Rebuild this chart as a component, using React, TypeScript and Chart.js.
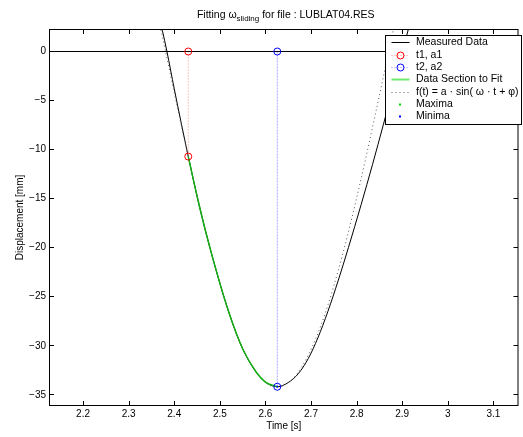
import React, { useEffect, useRef } from 'react';
import { Chart, registerables } from 'chart.js';

Chart.register(...registerables);

const FONT = "'Liberation Sans', Arial, Helvetica, sans-serif";

// axis ranges
const xMin = 2.1264;
const xMax = 3.154;
const yMin = -36.09;
const yMax = 2.243;

// tick values & labels
const xTicks = [2.2, 2.3, 2.4, 2.5, 2.6, 2.7, 2.8, 2.9, 3.0, 3.1];
const xTickLabels = ['2.2', '2.3', '2.4', '2.5', '2.6', '2.7', '2.8', '2.9', '3', '3.1'];
const yTicks = [-35, -30, -25, -20, -15, -10, -5, 0];
const yTickLabels = ['\u221235', '\u221230', '\u221225', '\u221220', '\u221215', '\u221210', '\u22125', '0'];

const measuredT = [2.360, 2.374, 2.384, 2.400, 2.4308, 2.4548, 2.480, 2.5194, 2.550, 2.580, 2.600, 2.626, 2.650, 2.672, 2.694, 2.715, 2.737, 2.760, 2.782, 2.810, 2.835, 2.859, 2.880, 2.897, 2.907, 2.917];
const measuredY = [5.0, 2.14, 0.0, -3.8, -10.71, -15.7, -20.3, -26.54, -30.3, -32.7, -33.7, -34.18, -33.75, -32.85, -31.3, -29.2, -26.5, -23.3, -20.0, -15.6, -11.5, -7.4, -3.7, -0.7, 1.1, 2.9];

// fitted sine curve
const fitT = [2.36, 2.38, 2.40, 2.42, 2.44, 2.46, 2.48, 2.50, 2.52, 2.54, 2.56, 2.58, 2.60, 2.62, 2.64, 2.66, 2.68, 2.70, 2.72, 2.74, 2.76, 2.78, 2.80, 2.82, 2.84, 2.86, 2.88, 2.90];
const fitY = [4.6, 0.22, -4.16, -8.47, -12.64, -16.60, -20.29, -23.65, -26.62, -29.15, -31.18, -32.74, -33.73, -34.18, -34.05, -33.38, -32.14, -30.38, -28.14, -25.43, -22.27, -18.77, -14.95, -10.89, -6.63, -2.30, 2.08, 6.4];

// key points
const t1 = 2.4308;
const a1 = -10.71;
const t2 = 2.626;
const a2 = -34.18;

const maximaT: number[] = [];
const maximaY: number[] = [];
const minimaT = [2.626];
const minimaY = [-34.18];

const legendLabels = ['Measured Data', 't1, a1', 't2, a2', 'Data Section to Fit', 'f(t) = a \u00b7 sin( \u03c9 \u00b7 t + \u03c6)', 'Maxima', 'Minima'];
const titleMain = 'Fitting \u03c9';
const titleSub = 'sliding';
const titleRest = ' for file : LUBLAT04.RES';

const pts = (xs: number[], ys: number[]) => xs.map((x, i) => ({ x, y: ys[i] }));

const framePlugin = {
  id: 'matlabFrame',
  afterDraw(chart: any) {
    const { ctx, chartArea: a, scales } = chart;
    ctx.save();
    ctx.strokeStyle = '#000';
    ctx.lineWidth = 1;
    ctx.setLineDash([]);
    // axes box
    ctx.strokeRect(a.left, a.top, a.right - a.left, a.bottom - a.top);
    // inward ticks on all sides
    const L = 4.5;
    ctx.beginPath();
    for (const v of xTicks) {
      const px = Math.round(scales.x.getPixelForValue(v)) + 0.5;
      ctx.moveTo(px, a.bottom);
      ctx.lineTo(px, a.bottom - L);
      ctx.moveTo(px, a.top);
      ctx.lineTo(px, a.top + L);
    }
    for (const v of yTicks) {
      const py = Math.round(scales.y.getPixelForValue(v) - 0.5) + 0.5;
      ctx.moveTo(a.left, py);
      ctx.lineTo(a.left + L, py);
      ctx.moveTo(a.right, py);
      ctx.lineTo(a.right - L, py);
    }
    ctx.stroke();

    // title with subscript
    ctx.fillStyle = '#000';
    ctx.textBaseline = 'alphabetic';
    ctx.textAlign = 'left';
    const mainFont = `10.5px ${FONT}`;
    const subFont = `8px ${FONT}`;
    ctx.font = mainFont;
    const w1 = ctx.measureText(titleMain).width;
    const w3 = ctx.measureText(titleRest).width;
    ctx.font = subFont;
    const w2 = ctx.measureText(titleSub).width;
    const total = w1 + w2 + w3;
    let tx = (a.left + a.right) / 2 - total / 2 + 2;
    const ty = 17.5;
    ctx.font = mainFont;
    ctx.fillText(titleMain, tx, ty);
    tx += w1;
    ctx.font = subFont;
    ctx.fillText(titleSub, tx, ty + 3.5);
    tx += w2;
    ctx.font = mainFont;
    ctx.fillText(titleRest, tx, ty);

    // legend box
    const lx0 = 385.5, ly0 = 35.5, lx1 = 521.5, ly1 = 124.5;
    ctx.fillStyle = '#fff';
    ctx.fillRect(lx0, ly0, lx1 - lx0, ly1 - ly0);
    ctx.strokeStyle = '#000';
    ctx.strokeRect(lx0, ly0, lx1 - lx0, ly1 - ly0);
    const sx0 = 391.5, sx1 = 409.5, mx = 400.5, textX = 416;
    ctx.font = `10.5px ${FONT}`;
    ctx.textBaseline = 'middle';
    legendLabels.forEach((label, i) => {
      const cy = Math.round(42.3 + i * 12.3) + 0.5;
      ctx.save();
      if (i === 0) {
        ctx.strokeStyle = '#000';
        ctx.lineWidth = 1;
        ctx.beginPath(); ctx.moveTo(sx0, cy); ctx.lineTo(sx1, cy); ctx.stroke();
      } else if (i === 1 || i === 2) {
        const col = i === 1 ? 'rgba(255,0,0,' : 'rgba(0,0,255,';
        ctx.strokeStyle = col + '0.45)';
        ctx.setLineDash([1, 2]);
        ctx.beginPath(); ctx.moveTo(sx0, cy); ctx.lineTo(sx1, cy); ctx.stroke();
        ctx.setLineDash([]);
        ctx.strokeStyle = col + '1)';
        ctx.beginPath(); ctx.arc(mx, cy, 3.5, 0, Math.PI * 2); ctx.stroke();
      } else if (i === 3) {
        ctx.strokeStyle = 'rgb(110,235,110)';
        ctx.lineWidth = 2;
        ctx.beginPath(); ctx.moveTo(sx0, cy); ctx.lineTo(sx1, cy); ctx.stroke();
      } else if (i === 4) {
        ctx.strokeStyle = '#555';
        ctx.setLineDash([1, 3]);
        ctx.beginPath(); ctx.moveTo(sx0, cy); ctx.lineTo(sx1, cy); ctx.stroke();
      } else {
        ctx.fillStyle = i === 5 ? '#00dd00' : '#0000ff';
        ctx.fillRect(mx - 1.5, cy - 1, 2, 2);
      }
      ctx.restore();
      ctx.fillStyle = '#000';
      ctx.fillText(label, textX, cy);
    });
    ctx.restore();
  },
};

export default function App() {
  const ref = useRef<HTMLCanvasElement | null>(null);

  useEffect(() => {
    if (!ref.current) return;
    const measured = pts(measuredT, measuredY);
    const section = measured.filter((p) => p.x >= t1 - 1e-9 && p.x <= t2 + 1e-9);
    const lineBase = { showLine: true, pointRadius: 0, borderWidth: 1, fill: false };
    const chart = new Chart(ref.current, {
      type: 'scatter',
      data: {
        datasets: [
          { label: 'Minima', data: pts(minimaT, minimaY), pointRadius: 1, pointBackgroundColor: '#0000ff', pointBorderWidth: 0, showLine: false },
          { label: 'Maxima', data: pts(maximaT, maximaY), pointRadius: 1, pointBackgroundColor: '#00dd00', pointBorderWidth: 0, showLine: false },
          { label: 't1, a1', data: [{ x: t1, y: 0 }, { x: t1, y: a1 }], showLine: false, pointRadius: 3.5, pointBorderColor: '#ff0000', pointBackgroundColor: 'rgba(0,0,0,0)', pointBorderWidth: 1 },
          { label: 't2, a2', data: [{ x: t2, y: 0 }, { x: t2, y: a2 }], showLine: false, pointRadius: 3.5, pointBorderColor: '#0000ff', pointBackgroundColor: 'rgba(0,0,0,0)', pointBorderWidth: 1 },
          { label: 'Data Section to Fit', data: section, ...lineBase, borderColor: 'rgb(20,175,20)', borderWidth: 1.5, cubicInterpolationMode: 'monotone' },
          { label: 't1 line', data: [{ x: t1, y: 0 }, { x: t1, y: a1 }], ...lineBase, borderColor: 'rgba(255,0,0,0.45)', borderDash: [1, 2] },
          { label: 't2 line', data: [{ x: t2, y: 0 }, { x: t2, y: a2 }], ...lineBase, borderColor: 'rgba(0,0,255,0.35)', borderDash: [2, 1] },
          { label: 'f(t)', data: pts(fitT, fitY), ...lineBase, borderColor: '#555', borderDash: [1, 3], cubicInterpolationMode: 'monotone' },
          { label: 'Measured Data', data: measured, ...lineBase, borderColor: '#000', cubicInterpolationMode: 'monotone' },
          { label: 'zero', data: [{ x: xMin, y: 0 }, { x: xMax, y: 0 }], ...lineBase, borderColor: '#000' },
        ],
      },
      options: {
        animation: false,
        responsive: false,
        events: [],
        layout: { padding: { top: 29.5, right: 1.5, left: 0, bottom: 0 } },
        plugins: {
          legend: { display: false },
          title: { display: false },
          tooltip: { enabled: false },
        },
        scales: {
          x: {
            type: 'linear',
            min: xMin,
            max: xMax,
            afterFit: (s: any) => { s.height = 31.5; },
            afterBuildTicks: (s: any) => { s.ticks = xTicks.map((v) => ({ value: v })); },
            grid: { display: false, drawTicks: false },
            border: { display: false },
            ticks: {
              autoSkip: false,
              maxRotation: 0,
              padding: 3,
              color: '#000',
              font: { family: FONT, size: 10 },
              callback: (v: any) => {
                const i = xTicks.findIndex((t) => Math.abs(t - Number(v)) < 1e-6);
                return i >= 0 ? xTickLabels[i] : '';
              },
            },
            title: { display: true, text: 'Time [s]', color: '#000', font: { family: FONT, size: 10 }, padding: { top: 0, bottom: 4.3 } },
          },
          y: {
            type: 'linear',
            min: yMin,
            max: yMax,
            afterFit: (s: any) => { s.width = 49.5; },
            afterBuildTicks: (s: any) => { s.ticks = yTicks.map((v) => ({ value: v })); },
            grid: { display: false, drawTicks: false },
            border: { display: false },
            ticks: {
              autoSkip: false,
              padding: 3.5,
              color: '#000',
              font: { family: FONT, size: 10 },
              callback: (v: any) => {
                const i = yTicks.findIndex((t) => Math.abs(t - Number(v)) < 1e-6);
                return i >= 0 ? yTickLabels[i] : '';
              },
            },
            title: { display: true, text: 'Displacement [mm]', color: '#000', font: { family: FONT, size: 10 }, padding: { top: 14.7, bottom: 0 } },
          },
        },
      } as any,
      plugins: [framePlugin as any],
    });
    return () => chart.destroy();
  }, []);

  return (
    <div style={{ position: 'fixed', left: 0, top: 0, width: 523, height: 437, background: '#fff' }}>
      <canvas ref={ref} width={523} height={437} style={{ display: 'block', width: 523, height: 437 }} />
    </div>
  );
}
